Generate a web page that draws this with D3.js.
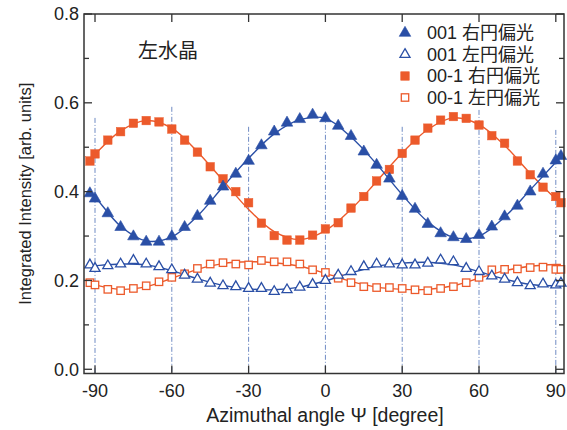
<!DOCTYPE html>
<html><head><meta charset="utf-8">
<script src="https://cdn.jsdelivr.net/npm/d3@7"></script>
<style>
html,body{margin:0;padding:0;background:#fff;}
svg{display:block;}
text{font-family:"Liberation Sans",Arial,"Noto Sans CJK JP",sans-serif;fill:#222;}
.jp{font-family:"Liberation Sans","Noto Sans CJK JP",sans-serif;}
</style></head>
<body>
<svg id="chart" width="567" height="430"></svg>
<script>
// ---- data ----
const angles = [-92,-90,-85,-80,-75,-70,-65,-60,-55,-50,-45,-40,-35,-30,-25,-20,-15,-10,-5,0,5,10,15,20,25,30,35,40,45,50,55,60,65,70,75,80,85,90,92];
const s001R = [0.396,0.384,0.351,0.320,0.299,0.287,0.287,0.299,0.320,0.345,0.379,0.411,0.440,0.469,0.504,0.535,0.555,0.563,0.573,0.565,0.548,0.525,0.490,0.460,0.429,0.390,0.361,0.327,0.306,0.297,0.293,0.302,0.321,0.344,0.368,0.400,0.440,0.470,0.480];
const s001L = [0.235,0.227,0.233,0.237,0.245,0.237,0.231,0.224,0.212,0.203,0.194,0.188,0.186,0.182,0.182,0.175,0.179,0.185,0.191,0.200,0.212,0.220,0.231,0.237,0.237,0.235,0.235,0.239,0.246,0.242,0.227,0.220,0.210,0.203,0.195,0.188,0.192,0.190,0.194];
const s00m1R = [0.469,0.485,0.516,0.535,0.554,0.560,0.557,0.541,0.516,0.489,0.456,0.429,0.400,0.375,0.329,0.301,0.291,0.291,0.302,0.316,0.330,0.363,0.389,0.424,0.450,0.486,0.516,0.543,0.561,0.569,0.565,0.550,0.526,0.509,0.469,0.438,0.410,0.389,0.375];
const s00m1L = [0.195,0.190,0.180,0.177,0.182,0.188,0.197,0.207,0.215,0.227,0.237,0.240,0.237,0.235,0.245,0.242,0.242,0.237,0.224,0.218,0.205,0.195,0.186,0.184,0.184,0.182,0.179,0.177,0.182,0.186,0.195,0.207,0.224,0.225,0.226,0.229,0.230,0.225,0.225];

const fitAngles = [-92,-90,-80,-70,-60,-50,-40,-30,-20,-10,0,10,20,30,40,50,60,70,80,90,92];
const fit001R  = [0.398,0.388,0.322,0.289,0.298,0.345,0.411,0.475,0.530,0.562,0.565,0.523,0.462,0.393,0.332,0.297,0.300,0.343,0.404,0.466,0.478];
const fit00m1R = [0.472,0.484,0.537,0.560,0.543,0.490,0.425,0.360,0.310,0.292,0.312,0.360,0.423,0.487,0.540,0.566,0.551,0.504,0.441,0.384,0.375];
const fit001L  = [0.232,0.233,0.237,0.235,0.222,0.204,0.189,0.181,0.179,0.185,0.199,0.217,0.232,0.239,0.241,0.235,0.220,0.203,0.191,0.188,0.189];
const fit00m1L = [0.194,0.190,0.180,0.186,0.205,0.225,0.238,0.242,0.240,0.232,0.216,0.198,0.185,0.180,0.180,0.188,0.205,0.222,0.232,0.236,0.236];

const refAngles = [-90,-60,-30,0,30,60,90];
const refTops   = [0.566,0.591,0.546,0.573,0.546,0.584,0.539];

const xTicks = [-90,-60,-30,0,30,60,90];
const yTicks = [0.0,0.2,0.4,0.6,0.8];
const yMinor = [0.1,0.3,0.5,0.7];

const legendLabels = ["001 右円偏光","001 左円偏光","00-1 右円偏光","00-1 左円偏光"];
const sampleLabel = "左水晶";
const xTitle = "Azimuthal angle Ψ [degree]";
const yTitle = "Integrated Intensity [arb. units]";

// ---- layout ----
const blue = "#2a4fa6", orange = "#ec5a2b", refColor = "#6f8bc4";
const L = 84, R = 564, T = 14, B = 373.5;
const svg = d3.select("#chart");
const x = d3.scaleLinear().domain([-94.3, 93.2]).range([L, R]);
const y = d3.scaleLinear().domain([-0.0095, 0.8]).range([B, T]);

// reference dash-dot lines
svg.append("g").selectAll("line").data(refAngles).join("line")
  .attr("x1", d => x(d)).attr("x2", d => x(d))
  .attr("y1", (d,i) => y(refTops[i])).attr("y2", B)
  .attr("stroke", refColor).attr("stroke-width", 1)
  .attr("stroke-dasharray", "5,2,1,2");

// fit curves
const line = d3.line().x(d => x(d[0])).y(d => y(d[1])).curve(d3.curveCatmullRom.alpha(0.5));
const fits = [[fit00m1L, orange],[fit001L, blue],[fit00m1R, orange],[fit001R, blue]];
fits.forEach(([vals, c]) => {
  svg.append("path").datum(fitAngles.map((a,i) => [a, vals[i]]))
    .attr("d", line).attr("fill", "none").attr("stroke", c).attr("stroke-width", 1.4);
});

// markers
const triFilled = d3.symbol().type(d3.symbolTriangle).size(58);
const triOpen = d3.symbol().type(d3.symbolTriangle).size(44);
function drawTri(vals, filled) {
  svg.append("g").selectAll("path").data(angles.map((a,i) => [a, vals[i]])).join("path")
    .attr("transform", d => `translate(${x(d[0])},${y(d[1])})`)
    .attr("d", filled ? triFilled : triOpen)
    .attr("fill", filled ? blue : "#fff")
    .attr("stroke", blue).attr("stroke-width", filled ? 0.6 : 1.3);
}
function drawSq(vals, filled) {
  const s = filled ? 8.5 : 7.4;
  svg.append("g").selectAll("rect").data(angles.map((a,i) => [a, vals[i]])).join("rect")
    .attr("x", d => x(d[0]) - s/2).attr("y", d => y(d[1]) - s/2)
    .attr("width", s).attr("height", s)
    .attr("fill", filled ? orange : "#fff")
    .attr("stroke", orange).attr("stroke-width", filled ? 0.5 : 1.3);
}
drawSq(s00m1L, false);
drawTri(s001L, false);
drawSq(s00m1R, true);
drawTri(s001R, true);

// frame
svg.append("rect").attr("x", L).attr("y", T).attr("width", R-L).attr("height", B-T)
  .attr("fill", "none").attr("stroke", "#333").attr("stroke-width", 1.5);

// ticks
const tk = svg.append("g").attr("stroke", "#333").attr("stroke-width", 1.3);
xTicks.forEach(v => {
  tk.append("line").attr("x1", x(v)).attr("x2", x(v)).attr("y1", B).attr("y2", B-8);
  tk.append("line").attr("x1", x(v)).attr("x2", x(v)).attr("y1", T).attr("y2", T+8);
});
yTicks.forEach(v => {
  tk.append("line").attr("x1", L).attr("x2", L+8).attr("y1", y(v)).attr("y2", y(v));
  tk.append("line").attr("x1", R).attr("x2", R-8).attr("y1", y(v)).attr("y2", y(v));
});
yMinor.forEach(v => {
  tk.append("line").attr("x1", L).attr("x2", L+5).attr("y1", y(v)).attr("y2", y(v));
  tk.append("line").attr("x1", R).attr("x2", R-5).attr("y1", y(v)).attr("y2", y(v));
});

// tick labels
svg.append("g").selectAll("text").data(xTicks).join("text")
  .attr("x", d => x(d)).attr("y", 397).attr("text-anchor", "middle")
  .attr("font-size", 18).text(d => d);
svg.append("g").selectAll("text").data(yTicks).join("text")
  .attr("x", 79).attr("y", d => y(d)).attr("dy", "0.36em").attr("text-anchor", "end")
  .attr("font-size", 18).text(d => d3.format(".1f")(d));

// titles
svg.append("text").attr("x", 325).attr("y", 422).attr("text-anchor", "middle")
  .attr("font-size", 19.5).text(xTitle);
svg.append("text").attr("transform", `translate(31,${(T+B)/2}) rotate(-90)`)
  .attr("text-anchor", "middle").attr("font-size", 16.5).text(yTitle);

svg.append("text").attr("class", "jp").attr("x", 138).attr("y", 58)
  .attr("font-size", 20).text(sampleLabel);

// legend
const lg = svg.append("g");
legendLabels.forEach((lab, i) => {
  const ly = 33 + i * 21.5;
  if (i < 2) {
    lg.append("path").attr("transform", `translate(405,${ly})`)
      .attr("d", i === 0 ? triFilled : triOpen)
      .attr("fill", i === 0 ? blue : "#fff").attr("stroke", blue)
      .attr("stroke-width", i === 0 ? 0.6 : 1.3);
  } else {
    const s = i === 2 ? 8.5 : 7.4;
    lg.append("rect").attr("x", 405 - s/2).attr("y", ly - s/2).attr("width", s).attr("height", s)
      .attr("fill", i === 2 ? orange : "#fff").attr("stroke", orange)
      .attr("stroke-width", i === 2 ? 0.5 : 1.3);
  }
  lg.append("text").attr("class", "jp").attr("x", 427).attr("y", ly).attr("dy", "0.36em")
    .attr("font-size", 18).text(lab);
});
</script>
</body></html>
